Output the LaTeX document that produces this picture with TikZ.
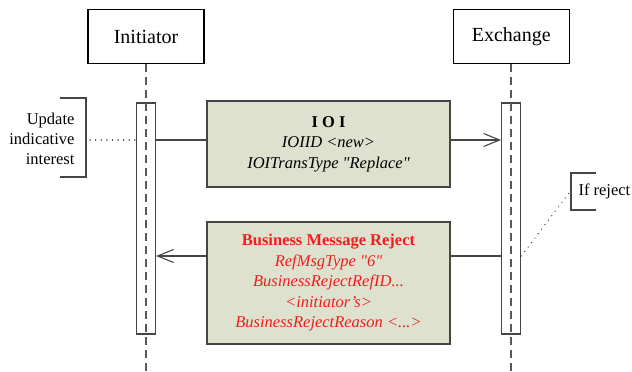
\documentclass[tikz,border=0pt]{standalone}
\usepackage{fontspec}
\setmainfont{Liberation Serif}
\usetikzlibrary{positioning, arrows.meta}
\definecolor{msgfill}{RGB}{221,225,205}
\definecolor{rejred}{RGB}{240,30,30}
\definecolor{linegray}{RGB}{70,70,70}
\newcommand{\dq}{\textquotedbl}
\tikzset{
actor/.style={ % Boxes at the head of each lifeline
draw=black, line width=1.2pt, fill=white,
minimum width=116pt, minimum height=54pt,
font=\fontsize{20}{24}\selectfont},
bar/.style={ % Activation bars
draw=linegray, line width=1.2pt, fill=white,
minimum width=19pt, minimum height=231pt},
lifeline/.style={ % Dashed line below each actor
draw=gray!70!black, line width=1.6pt, dash pattern=on 8pt off 5pt},
msgbox/.style={ % Message contents
draw=linegray, line width=1.5pt, fill=msgfill, align=center,
minimum width=243pt,
font=\fontsize{16.5}{20.5}\selectfont},
link/.style={ % Message transitions
draw=linegray, line width=1.1pt,
>={Straight Barb[length=16pt,width=13pt]}},
note/.style={ % Side comments
font=\fontsize{16.5}{20}\selectfont},
bracket/.style={draw=linegray, line width=1.2pt},
noteline/.style={draw=linegray, line width=1.4pt, line cap=round, dash pattern=on 0.1pt off 5.5pt}}

\begin{document}
\begin{tikzpicture}[x=1pt, y=-1pt]
    \useasboundingbox (0,0) rectangle (632,372);
    
    \node[actor] (init) at (146,36.5) {Initiator};
    \node[actor, right=248pt of init] (exch) {Exchange};
    
    \coordinate (bottom) at (0,372);
    \coordinate (ioiy) at (0,140);
    \coordinate (bmry) at (0,256);
    
    \node[bar] (initbar) at (init |- 0,218.5) {};
    \node[bar] (exchbar) at (exch |- initbar) {};
    
    \draw[lifeline] (init.south) -- (init |- bottom);
    \draw[lifeline] (exch.south) -- (exch |- bottom);
    
    \node[msgbox, minimum height=86pt] (ioi) at (328.5,144)
        {\textbf{I O I}\\\itshape IOIID <new>\\\itshape IOITransType \dq Replace\dq};
    \node[msgbox, minimum height=122pt, text=rejred] (bmr) at (328.5,283)
        {\textbf{Business Message Reject}\\\itshape RefMsgType \dq 6\dq\\\itshape BusinessRejectRefID...\\\itshape <initiator's>\\\itshape BusinessRejectReason <...>};
    
    \draw[link] (initbar.east |- ioiy) -- (ioi.west |- ioiy);
    \draw[link, ->] (ioi.east |- ioiy) -- (exchbar.west |- ioiy);
    \draw[link, ->] (bmr.west |- bmry) -- (initbar.east |- bmry);
    \draw[link] (exchbar.west |- bmry) -- (bmr.east |- bmry);
    
    % side notes
    \node[note, anchor=east, align=right] (upd) at (78,139) {Update\\indicative\\interest};
    \draw[bracket] (60,98) -- (86,98) -- (86,177) -- (60,177);
    \coordinate (updtick) at (90,140);
    \draw[noteline] (updtick) -- (initbar.west |- ioiy);
    
    \node[note, anchor=west] (rej) at (575,191) {If reject};
    \draw[bracket] (596,173) -- (571,173) -- (571,210) -- (596,210);
    \coordinate (rejtick) at (569,193);
    \draw[noteline] (exchbar.east |- bmry) -- (rejtick);
    
\end{tikzpicture}
\end{document}
